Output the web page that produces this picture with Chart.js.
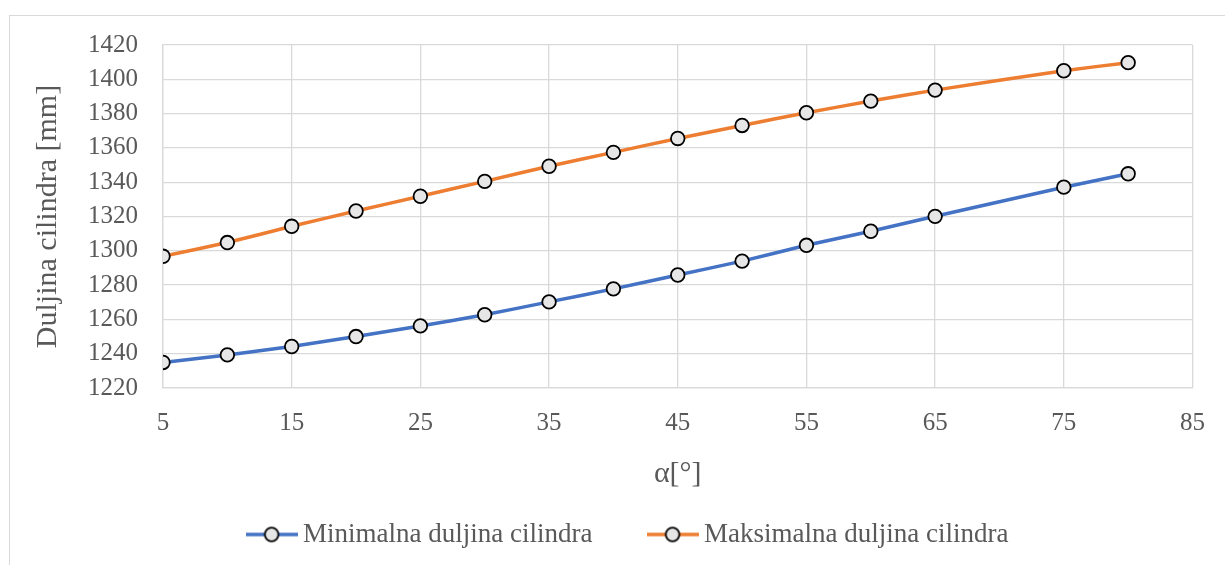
<!DOCTYPE html>
<html>
<head>
<meta charset="utf-8">
<script src="https://cdn.jsdelivr.net/npm/chart.js@4/dist/chart.umd.min.js"></script>
<style>
  html, body { margin: 0; padding: 0; background: #fff; overflow: hidden; }
  #okvir { position: absolute; left: 9px; top: 15px; width: 1400px; height: 700px; border: 1px solid #d9d9d9; }
  #wrap { position: absolute; left: 0; top: 0; width: 1225px; height: 565px; }
</style>
</head>
<body>
<div id="okvir"></div>
<div id="wrap"><canvas id="grafik"></canvas></div>
<script>
// podaci (ocitano sa slike)
const alfa = [5, 10, 15, 20, 25, 30, 35, 40, 45, 50, 55, 60, 65, 75, 80];
const minimalna = [1234.9, 1239.3, 1244.2, 1250.0, 1256.2, 1262.7, 1270.2, 1277.8, 1285.9, 1294.0, 1303.2, 1311.4, 1320.1, 1337.1, 1344.9];
const maksimalna = [1296.8, 1304.8, 1314.3, 1323.2, 1331.8, 1340.5, 1349.3, 1357.4, 1365.5, 1373.1, 1380.5, 1387.3, 1393.7, 1405.0, 1409.7];

const nazivi = ["Minimalna duljina cilindra", "Maksimalna duljina cilindra"];
const boje = ["#4472c4", "#ed7d31"];

const sivaTekst = "#595959";
const sivaMreza = "#d9d9d9";
const font = "'Liberation Serif', 'Times New Roman', serif";

// sličica za legendu: linija + kruzic
function ikonaLegende(boja) {
  const c = document.createElement("canvas");
  c.width = 52; c.height = 18;
  const g = c.getContext("2d");
  g.strokeStyle = boja; g.lineWidth = 3.5;
  g.beginPath(); g.moveTo(0, 9); g.lineTo(52, 9); g.stroke();
  g.fillStyle = "#e6e6e6"; g.strokeStyle = "#000"; g.lineWidth = 1.8;
  g.beginPath(); g.arc(26, 9, 6.8, 0, Math.PI * 2); g.fill(); g.stroke();
  return c;
}

function serija(i, podaci) {
  return {
    label: nazivi[i],
    data: alfa.map((x, k) => ({ x: x, y: podaci[k] })),
    borderColor: boje[i],
    backgroundColor: boje[i],
    borderWidth: 3.5,
    tension: 0.15,
    pointRadius: 6.8,
    pointBackgroundColor: "#e6e6e6",
    pointBorderColor: "#000",
    pointBorderWidth: 1.8,
    pointStyle: "circle"
  };
}

const ikone = [ikonaLegende(boje[0]), ikonaLegende(boje[1])];

new Chart(document.getElementById("grafik"), {
  type: "line",
  data: {
    datasets: [serija(0, minimalna), serija(1, maksimalna)]
  },
  options: {
    responsive: true,
    maintainAspectRatio: false,
    animation: false,
    layout: { padding: { left: 68, right: 31, top: 45, bottom: 7 } },
    plugins: {
      tooltip: { enabled: false },
      legend: {
        position: "bottom",
        labels: {
          usePointStyle: true,
          pointStyleWidth: 36,
          padding: 62,
          color: sivaTekst,
          font: { family: font, size: 27 },
          generateLabels(chart) {
            return chart.data.datasets.map((ds, i) => ({
              text: ds.label,
              pointStyle: ikone[i],
              fontColor: sivaTekst,
              hidden: false,
              datasetIndex: i,
              lineWidth: 0
            }));
          }
        }
      }
    },
    scales: {
      x: {
        type: "linear",
        min: 5,
        max: 85,
        ticks: { stepSize: 10, color: sivaTekst, padding: 20, font: { family: font, size: 25 }, maxRotation: 0 },
        grid: { color: sivaMreza, lineWidth: 1.3, drawTicks: false },
        border: { color: sivaMreza, width: 1.3 },
        title: { display: true, text: "α[°]", color: sivaTekst, font: { family: font, size: 30 }, padding: { top: 0, bottom: -33 } },
        afterFit(s) { s.height = 71; }
      },
      y: {
        min: 1220,
        max: 1420,
        ticks: { stepSize: 20, color: sivaTekst, padding: 25, font: { family: font, size: 25 }, format: { useGrouping: false } },
        grid: { color: sivaMreza, lineWidth: 1.3, drawTicks: false },
        border: { color: sivaMreza, width: 1.3 },
        title: { display: true, text: "Duljina cilindra [mm]", color: sivaTekst, font: { family: font, size: 30 }, padding: { top: -38, bottom: 0 } },
        afterFit(s) { s.width = 95; }
      }
    }
  }
});
</script>
</body>
</html>
